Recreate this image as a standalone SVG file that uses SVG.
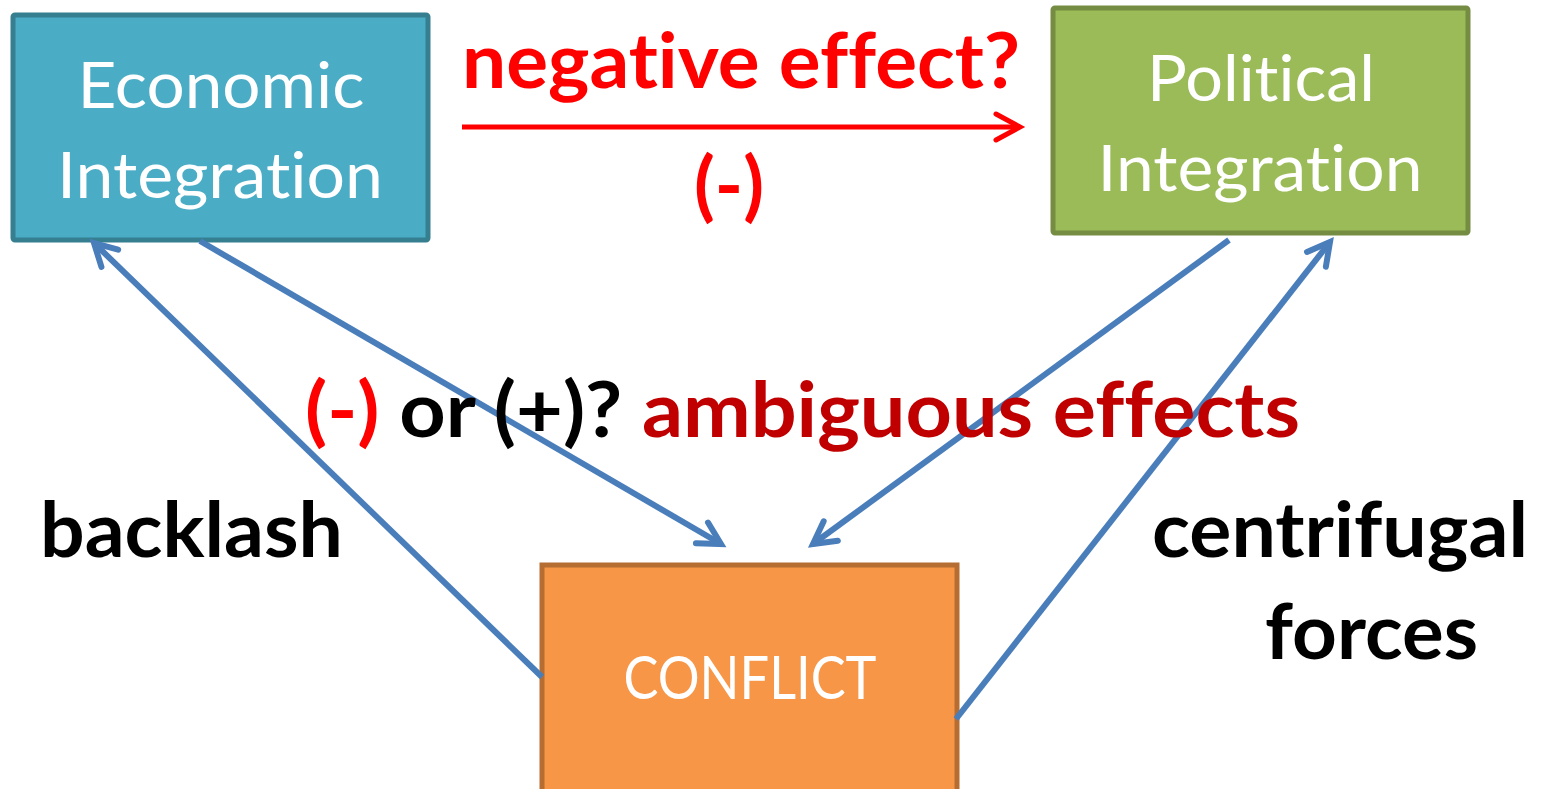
<svg xmlns="http://www.w3.org/2000/svg" width="1541" height="789" viewBox="0 0 1541 789">
<style>
text{font-variant-ligatures:none;font-feature-settings:"liga" 0,"clig" 0}
.box{stroke-width:5}
.nt{font-family:Lato,"Open Sans","Liberation Sans",sans-serif;fill:#fff;text-anchor:middle}
.lb{font-family:Lato,"Open Sans","Liberation Sans",sans-serif;font-weight:bold;font-size:76px}
.conn{stroke:#4A7EBB;stroke-width:6;fill:none}
</style>
<defs>
<marker id="ab" markerUnits="userSpaceOnUse" orient="auto" markerWidth="40" markerHeight="40" viewBox="-30 -20 40 40" refX="0" refY="0">
<path d="M-22,-12 L0,0 L-22,12" fill="none" stroke="#4A7EBB" stroke-width="6" stroke-linecap="round" stroke-linejoin="miter"/>
</marker>
<marker id="ar" markerUnits="userSpaceOnUse" orient="auto" markerWidth="40" markerHeight="40" viewBox="-30 -20 40 40" refX="0" refY="0">
<path d="M-24,-13 L0,0 L-24,13" fill="none" stroke="#FF0000" stroke-width="5" stroke-linecap="round"/>
</marker>
</defs>
<rect width="1541" height="789" fill="#fff"/>
<g id="economic">
<rect class="box" x="13" y="15" width="415" height="225" fill="#4BACC6" stroke="#357F90" rx="2"/>
<text class="nt" x="221" y="108" font-size="64" textLength="287" lengthAdjust="spacingAndGlyphs">Economic</text>
<text class="nt" x="220" y="198" font-size="64" textLength="326" lengthAdjust="spacingAndGlyphs">Integration</text>
</g>
<g id="political">
<rect class="box" x="1053" y="8" width="415" height="225" fill="#9BBB59" stroke="#748D42" rx="2"/>
<text class="nt" x="1261" y="101" font-size="64" textLength="228" lengthAdjust="spacingAndGlyphs">Political</text>
<text class="nt" x="1260" y="191" font-size="64" textLength="325" lengthAdjust="spacingAndGlyphs">Integration</text>
</g>
<g id="conflict">
<rect class="box" x="542" y="565" width="415" height="240" fill="#F79646" stroke="#B66D31"/>
<text class="nt" x="750" y="699" font-size="60" textLength="253" lengthAdjust="spacingAndGlyphs">CONFLICT</text>
</g>
<g id="connectors">
<line class="conn" x1="542" y1="677" x2="94" y2="243" marker-end="url(#ab)"/>
<line class="conn" x1="200" y1="241" x2="721" y2="544" marker-end="url(#ab)"/>
<line class="conn" x1="1229" y1="240" x2="813" y2="544" marker-end="url(#ab)"/>
<line class="conn" x1="956" y1="719" x2="1330" y2="242" marker-end="url(#ab)"/>
<line x1="462" y1="127" x2="1020" y2="127" stroke="#FF0000" stroke-width="5" marker-end="url(#ar)"/>
</g>
<g id="labels">
<text class="lb" x="462" y="88" fill="#FF0000" textLength="558" lengthAdjust="spacingAndGlyphs">negative effect?</text>
<text class="lb" x="729" y="212" fill="#FF0000" text-anchor="middle">(-)</text>
<text class="lb" x="305" y="437" textLength="995" lengthAdjust="spacingAndGlyphs"><tspan fill="#FF0000">(-)</tspan><tspan fill="#000"> or (+)? </tspan><tspan fill="#C00000">ambiguous effects</tspan></text>
<text class="lb" x="40" y="557" fill="#000" textLength="303" lengthAdjust="spacingAndGlyphs">backlash</text>
<text class="lb" x="1152" y="557" fill="#000" textLength="376" lengthAdjust="spacingAndGlyphs">centrifugal</text>
<text class="lb" x="1265" y="659" fill="#000" textLength="213" lengthAdjust="spacingAndGlyphs">forces</text>
</g>
</svg>
